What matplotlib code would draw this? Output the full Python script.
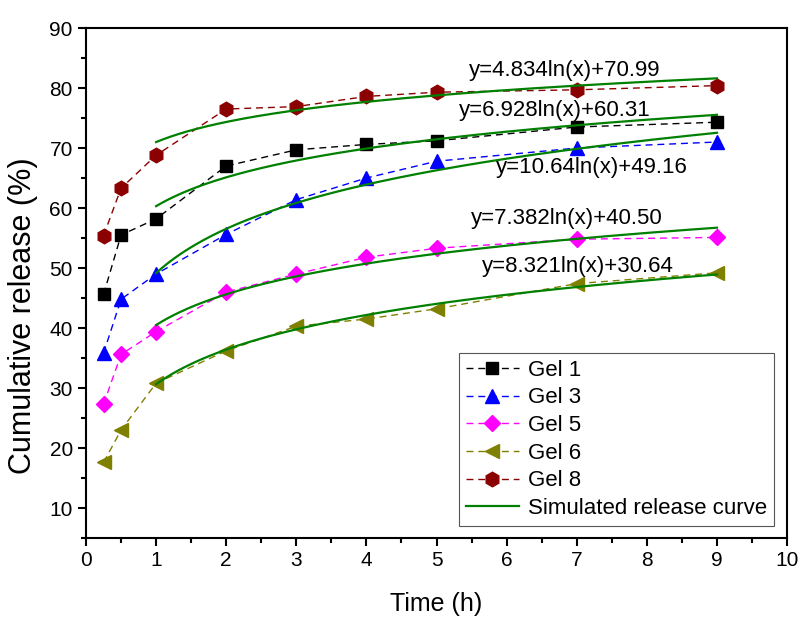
import numpy as np
import matplotlib.pyplot as plt
from matplotlib.ticker import MultipleLocator

plt.rcParams["font.family"] = ["Liberation Sans", "DejaVu Sans"]

TIME = [0.25, 0.5, 1, 2, 3, 4, 5, 7, 9]
GEL1 = [45.6, 55.5, 58.2, 67.0, 69.7, 70.6, 71.2, 73.5, 74.3]
GEL3 = [35.8, 44.8, 49.0, 55.6, 61.4, 65.0, 67.8, 70.0, 71.0]
GEL5 = [27.3, 35.6, 39.4, 46.0, 49.0, 51.8, 53.3, 54.8, 55.1]
GEL6 = [17.6, 23.0, 30.8, 36.2, 40.3, 41.5, 43.2, 47.4, 49.2]
GEL8 = [55.4, 63.3, 68.8, 76.5, 76.9, 78.6, 79.3, 79.7, 80.4]

# fitted log curves y = a*ln(x) + b (order: gel 8, 1, 3, 5, 6)
FIT_A = [4.834, 6.928, 10.64, 7.382, 8.321]
FIT_B = [70.99, 60.31, 49.16, 40.50, 30.64]
FIT_LABELS = ["y=4.834ln(x)+70.99", "y=6.928ln(x)+60.31", "y=10.64ln(x)+49.16",
              "y=7.382ln(x)+40.50", "y=8.321ln(x)+30.64"]
LABEL_X = [6.83, 6.69, 7.22, 6.86, 7.02]
LABEL_Y = [83.0, 76.3, 66.7, 58.3, 50.2]

SERIES = [
    (GEL1, "black", "s", 8.5, "Gel 1"),
    (GEL3, "#0000FF", "^", 9.5, "Gel 3"),
    (GEL5, "#FF00FF", "D", 8.5, "Gel 5"),
    (GEL6, "#808000", "<", 9.5, "Gel 6"),
    (GEL8, "#8B0000", "h", 10.5, "Gel 8"),
]

fig = plt.figure(figsize=(7.98, 6.17), dpi=100)
ax = fig.add_axes([0.1078, 0.128, 0.8785, 0.8266])

for vals, color, marker, ms, label in SERIES:
    ax.plot(TIME, vals, linestyle=(0, (5, 3.5)), color=color, linewidth=1.0,
            marker=marker, markersize=ms, markerfacecolor=color,
            markeredgecolor=color, label=label)

xs = np.linspace(1, 9, 200)
for i, (a, b) in enumerate(zip(FIT_A, FIT_B)):
    ax.plot(xs, a * np.log(xs) + b, color="#008000", linewidth=1.6,
            label="Simulated release curve" if i == 0 else None)
    ax.text(LABEL_X[i], LABEL_Y[i], FIT_LABELS[i], fontsize=16,
            ha="center", va="center")

ax.set_xlim(0, 10)
ax.set_ylim(5, 90)
ax.xaxis.set_major_locator(MultipleLocator(1))
ax.xaxis.set_minor_locator(MultipleLocator(0.5))
ax.yaxis.set_minor_locator(MultipleLocator(5))
ax.set_yticks(range(10, 91, 10))
ax.tick_params(which="major", direction="out", length=6, width=1.5,
               labelsize=15, top=False, right=False)
ax.tick_params(which="minor", direction="out", length=3.5, width=1.5,
               top=False, right=False)
for sp in ax.spines.values():
    sp.set_linewidth(1.5)

ax.set_xlabel("Time (h)", fontsize=18, labelpad=16)
ax.set_ylabel("Cumulative release (%)", fontsize=22)
ax.yaxis.set_label_coords(-0.069, 0.435)

leg = ax.legend(loc="lower right", bbox_to_anchor=(0.981, 0.024), fontsize=16,
                fancybox=False, edgecolor="#555555", framealpha=1,
                handlelength=2.4, handletextpad=0.4, borderpad=0.3,
                labelspacing=0.3, borderaxespad=0)
leg.get_frame().set_linewidth(0.8)

fig.savefig("out.png", dpi=100)
